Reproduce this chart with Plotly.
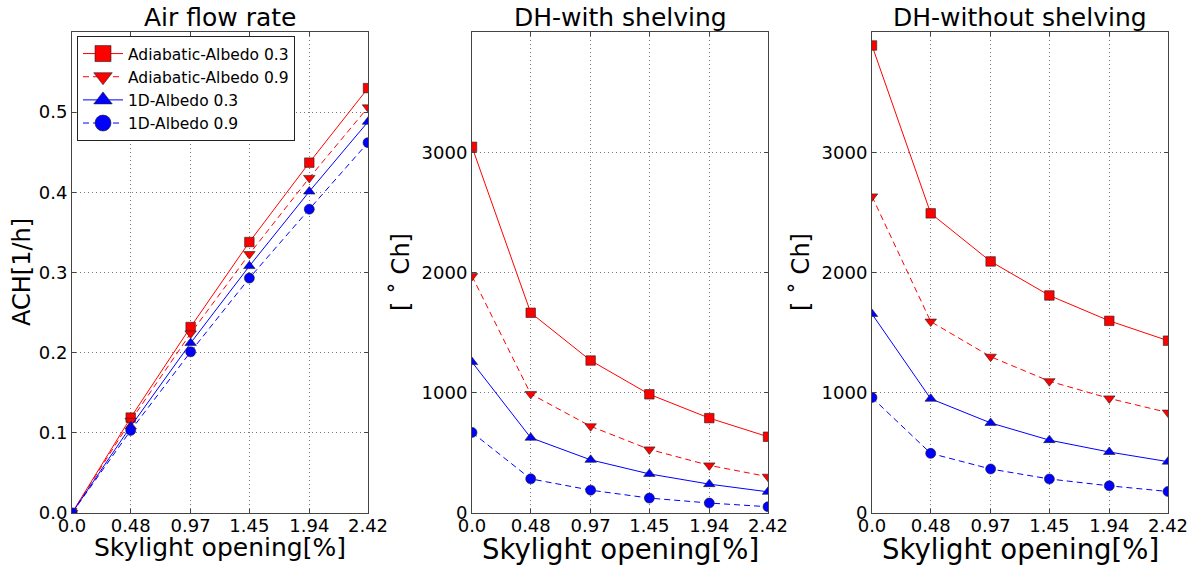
import plotly.graph_objects as go

W, H = 1196, 566

# ---- data ----
skylight = [0.0, 0.48, 0.97, 1.45, 1.94, 2.42]
skylight_labels = ["0.0", "0.48", "0.97", "1.45", "1.94", "2.42"]

series_names = ["Adiabatic-Albedo 0.3", "Adiabatic-Albedo 0.9", "1D-Albedo 0.3", "1D-Albedo 0.9"]

ach_adi_03 = [0.0, 0.119, 0.232, 0.338, 0.437, 0.530]
ach_adi_09 = [0.0, 0.115, 0.224, 0.323, 0.418, 0.506]
ach_1d_03 = [0.0, 0.108, 0.212, 0.308, 0.401, 0.488]
ach_1d_09 = [0.0, 0.103, 0.201, 0.293, 0.379, 0.462]

dhs_adi_03 = [3045, 1665, 1268, 987, 789, 634]
dhs_adi_09 = [1970, 990, 721, 529, 396, 302]
dhs_1d_03 = [1255, 626, 442, 325, 240, 176]
dhs_1d_09 = [670, 284, 190, 124, 83, 52]

dhn_adi_03 = [3888, 2492, 2092, 1809, 1598, 1433]
dhn_adi_09 = [2633, 1592, 1300, 1096, 953, 835]
dhn_1d_03 = [1655, 950, 749, 606, 507, 427]
dhn_1d_09 = [960, 496, 366, 283, 226, 179]

ach_ticks = [0.0, 0.1, 0.2, 0.3, 0.4, 0.5]
ach_ticklabels = ["0.0", "0.1", "0.2", "0.3", "0.4", "0.5"]
dh_ticks = [0, 1000, 2000, 3000]
dh_ticklabels = ["0", "1000", "2000", "3000"]

panel_titles = ["Air flow rate", "DH-with shelving", "DH-without shelving"]
y_titles = ["ACH[1/h]", "[ ˚ Ch]", "[ ˚ Ch]"]
x_title = "Skylight opening[%]"

# ---- styles ----
styles = [
    dict(color="#ff0000", symbol="square", dash="solid", size=9.5),
    dict(color="#ff0000", symbol="triangle-down", dash="6px,4px", size=10),
    dict(color="#0000ff", symbol="triangle-up", dash="solid", size=10),
    dict(color="#0000ff", symbol="circle", dash="6px,4px", size=10),
]

panels = [
    ([ach_adi_03, ach_adi_09, ach_1d_03, ach_1d_09], [0, 0.6], ach_ticks, ach_ticklabels),
    ([dhs_adi_03, dhs_adi_09, dhs_1d_03, dhs_1d_09], [0, 4000], dh_ticks, dh_ticklabels),
    ([dhn_adi_03, dhn_adi_09, dhn_1d_03, dhn_1d_09], [0, 4000], dh_ticks, dh_ticklabels),
]

px_left = [72, 472, 872]
px_right = [368, 768, 1168]
px_top, px_bottom = 32, 513

FONT = "DejaVu Sans"
fig = go.Figure()
layout = dict(
    width=W, height=H,
    margin=dict(l=0, r=0, t=0, b=0, autoexpand=False),
    paper_bgcolor="white", plot_bgcolor="white",
    font=dict(family=FONT, color="black", size=18),
    showlegend=True,
    legend=dict(
        x=77 / W, y=(H - 36) / H, xanchor="left", yanchor="top",
        bgcolor="white", bordercolor="#222", borderwidth=1,
        font=dict(family=FONT, size=15.5, color="black"),
        tracegroupgap=0, itemwidth=40,
    ),
)

annotations = []
for i, (series, yr, yt, ytl) in enumerate(panels):
    xa = "x" if i == 0 else f"x{i+1}"
    ya = "y" if i == 0 else f"y{i+1}"
    for j, vals in enumerate(series):
        st = styles[j]
        fig.add_trace(go.Scatter(
            x=skylight, y=vals, xaxis=xa, yaxis=ya,
            mode="lines+markers", name=series_names[j],
            showlegend=False, legendgroup=series_names[j],
            line=dict(color=st["color"], width=1, dash=st["dash"]),
            marker=dict(symbol=st["symbol"], size=st["size"],
                        color=st["color"], line=dict(color="#222", width=0.6)),
            cliponaxis=True,
        ))
    axcommon = dict(
        showline=True, linecolor="#444", linewidth=1, mirror="ticks",
        ticks="inside", ticklen=4, tickcolor="#444", automargin=False,
        showgrid=True, gridcolor="#777", griddash="1px,3px", gridwidth=1,
        zeroline=False, tickfont=dict(family=FONT, size=18, color="black"),
    )
    xkey = "xaxis" if i == 0 else f"xaxis{i+1}"
    ykey = "yaxis" if i == 0 else f"yaxis{i+1}"
    layout[xkey] = dict(
        axcommon, domain=[px_left[i] / W, px_right[i] / W], range=[0, 2.42],
        tickmode="array", tickvals=skylight, ticktext=skylight_labels,
        anchor=ya, ticklabelstandoff=-4,
    )
    layout[ykey] = dict(
        axcommon, domain=[(H - px_bottom) / H, (H - px_top) / H], range=yr,
        tickmode="array", tickvals=yt, ticktext=ytl,
        anchor=xa,
    )
    cx = (px_left[i] + px_right[i]) / 2
    annotations.append(dict(
        text=panel_titles[i], x=cx / W, y=(H - 34) / H, xref="paper", yref="paper",
        xanchor="center", yanchor="bottom", showarrow=False,
        font=dict(family=FONT, size=25, color="black"),
    ))
    annotations.append(dict(
        text=x_title, x=cx / W, y=(H - 531) / H, xref="paper", yref="paper",
        xanchor="center", yanchor="top", showarrow=False,
        font=dict(family=FONT, size=25 if i == 0 else 27.5, color="black"),
    ))
    ycx = [22, 401, 801][i]
    annotations.append(dict(
        text=y_titles[i], x=ycx / W, y=(H - 272) / H, xref="paper", yref="paper",
        xanchor="center", yanchor="middle", textangle=-90, showarrow=False,
        font=dict(family=FONT, size=24, color="black"),
    ))

# legend-only entries (no marks drawn), with larger symbols like the reference legend
for j, st in enumerate(styles):
    fig.add_trace(go.Scatter(
        x=[None], y=[None], xaxis="x", yaxis="y",
        mode="lines+markers", name=series_names[j], legendgroup=series_names[j],
        showlegend=True,
        line=dict(color=st["color"], width=1, dash=st["dash"]),
        marker=dict(symbol=st["symbol"], size=16, color=st["color"],
                    line=dict(color="#222", width=0.6)),
    ))

layout["annotations"] = annotations
fig.update_layout(**layout)
fig.write_html("out.html")
